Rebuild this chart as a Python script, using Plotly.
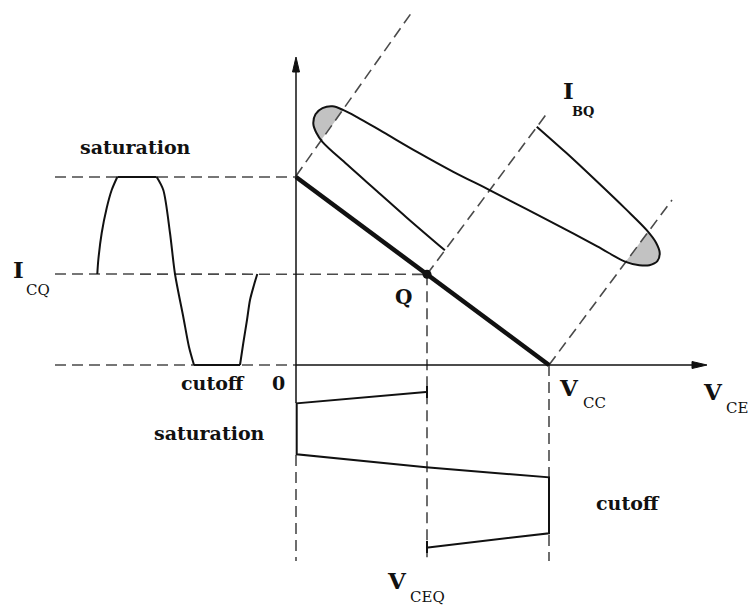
import numpy as np
import plotly.graph_objects as go

# ---------------- diagram values (screen units, y downward) ----------
ORIGIN = (296, 365)          # (V_CE = 0, I_C = 0)
VCC_X = 549                  # V_CC on the V_CE axis
IC_SAT_Y = 177               # I_C(sat) level on the I_C axis
ICQ_Y = 274                  # I_CQ level
VCEQ_X = 427                 # V_CEQ
Y_ARROW_TIP = 57
X_ARROW_TIP = 707
LEFT_DASH_X = 55
BOTTOM_DASH_Y = 561

# collector current waveform (left), split into pieces
ic_pieces = [
    ([97.3, 98.3, 101.7, 106.7, 111.7, 117.3], [274, 260, 233, 208, 190, 177]),
    ([117.3, 156.7], [177, 177]),
    ([156.7, 163.3, 170, 175, 183.3, 189, 194], [177, 190, 233, 274, 317, 347, 365]),
    ([194, 240], [365, 365]),
    ([240, 243.3, 247, 250, 254, 257.3], [365, 343, 320, 300, 285, 274]),
]

# collector-emitter voltage waveform (bottom)
vce_x = [426, 296.7, 296.7, 426, 549, 549, 426]
vce_y = [392, 403.3, 454.3, 467.3, 477.3, 533.3, 547.7]

# base current waveform, in a frame rotated along the load line:
# U = along the load line (towards V_CC), V = along the I_BQ dashed line
ib_u = [0, 40, 80, 120, 150, 165, 174, 177, 173, 165, 152, 120, 80, 40, 0,
        -40, -80, -120, -150, -165, -176, -183, -185, -181, -173, -163, -130, -90, -50, 0]
ib_v = [-184, -180.5, -176, -171, -166.5, -162, -156, -148, -140, -134, -128.5, -124, -118, -111.5, -105,
        -98, -92.5, -88, -84.5, -82, -78.5, -71, -62, -53, -47.5, -44, -40.5, -37, -33.5, -30]
cap_r_u = [152, 165, 174, 177, 173, 165, 152]
cap_r_v = [-166.7, -162, -156, -148, -140, -134, -128.5]
cap_l_u = [-165, -176, -183, -185, -181, -173, -165]
cap_l_v = [-82, -78.5, -71, -62, -53, -47.5, -44.3]

# dashed guide lines through the three operating points (upper ends)
guide_top_sat = (412, 12)
guide_top_q = (548, 112)
guide_top_vcc = (672, 200)

# labels: text, x, y, size, family, bold
labels = [
    ("saturation", 135, 147, 19, "DejaVu Serif", True),
    ("I", 18, 269, 23, "DejaVu Serif", True),
    ("CQ", 38, 290, 15, "DejaVu Serif", False),
    ("Q", 403, 297, 20, "DejaVu Serif", True),
    ("0", 278, 383, 19, "DejaVu Serif", True),
    ("cutoff", 213, 383, 19, "DejaVu Serif", True),
    ("saturation", 209, 433, 19, "DejaVu Serif", True),
    ("V", 569, 387, 23, "DejaVu Serif", True),
    ("CC", 594, 403, 15, "DejaVu Serif", False),
    ("V", 713, 391, 23, "DejaVu Serif", True),
    ("CE", 737, 408, 15, "DejaVu Serif", False),
    ("cutoff", 628, 503, 19, "DejaVu Serif", True),
    ("V", 397, 580, 23, "DejaVu Serif", True),
    ("CEQ", 427, 597, 15, "DejaVu Serif", False),
    ("I", 568, 90, 23, "DejaVu Serif", True),
    ("BQ", 583, 111, 13, "DejaVu Serif", True),
]

PAGE_W, PAGE_H = 751, 607

# ---------------- geometry helpers ----------------
ox, oy = ORIGIN
d = np.array([VCC_X - ox, oy - IC_SAT_Y], dtype=float)
u = d / np.linalg.norm(d)
v = np.array([-u[1], u[0]])
Q = np.array([VCEQ_X, IC_SAT_Y + (VCEQ_X - ox) * d[1] / d[0]])


def to_screen(U, V):
    U = np.asarray(U, float)
    V = np.asarray(V, float)
    return Q[0] + U * u[0] + V * v[0], Q[1] + U * u[1] + V * v[1]


INK = "#111111"
DASH = "#4a4a4a"
GRAY = "#c2c2c2"

fig = go.Figure()

# gray caps (clipped parts of the base current)
for cu, cv in [(cap_r_u, cap_r_v), (cap_l_u, cap_l_v)]:
    cx, cy = to_screen(cu, cv)
    fig.add_trace(go.Scatter(x=cx, y=cy, mode="lines", fill="toself", fillcolor=GRAY,
                             line=dict(width=0, shape="spline", smoothing=1.0),
                             hoverinfo="skip"))

# dashed guides
dx, dy = [], []
segs = [
    ((LEFT_DASH_X, IC_SAT_Y), (ox, IC_SAT_Y)),
    ((LEFT_DASH_X, ICQ_Y), (Q[0], Q[1])),
    ((LEFT_DASH_X, oy), (ox, oy)),
    ((ox, 455), (ox, BOTTOM_DASH_Y)),
    ((VCEQ_X, Q[1]), (VCEQ_X, BOTTOM_DASH_Y)),
    ((VCC_X, oy), (VCC_X, BOTTOM_DASH_Y)),
    ((ox, IC_SAT_Y - 1), guide_top_sat),
    ((Q[0], Q[1]), guide_top_q),
    ((VCC_X, oy), guide_top_vcc),
]
for (x0, y0), (x1, y1) in segs:
    dx += [x0, x1, None]
    dy += [y0, y1, None]
fig.add_trace(go.Scatter(x=dx, y=dy, mode="lines",
                         line=dict(color=DASH, width=1.6, dash="11px,6px"),
                         hoverinfo="skip"))

# axes
fig.add_trace(go.Scatter(x=[ox, ox, None, ox, X_ARROW_TIP - 10],
                         y=[403, Y_ARROW_TIP + 10, None, oy, oy],
                         mode="lines", line=dict(color=INK, width=1.5), hoverinfo="skip"))
# arrowheads
fig.add_trace(go.Scatter(x=[ox, ox - 3.5, ox + 3.5, ox],
                         y=[Y_ARROW_TIP, Y_ARROW_TIP + 15, Y_ARROW_TIP + 15, Y_ARROW_TIP],
                         mode="lines", fill="toself", fillcolor=INK,
                         line=dict(color=INK, width=1), hoverinfo="skip"))
fig.add_trace(go.Scatter(x=[X_ARROW_TIP, X_ARROW_TIP - 15, X_ARROW_TIP - 15, X_ARROW_TIP],
                         y=[oy, oy - 3.5, oy + 3.5, oy],
                         mode="lines", fill="toself", fillcolor=INK,
                         line=dict(color=INK, width=1), hoverinfo="skip"))

# load line
fig.add_trace(go.Scatter(x=[ox, VCC_X], y=[IC_SAT_Y, oy], mode="lines",
                         line=dict(color=INK, width=4.5), hoverinfo="skip"))

# collector current waveform
wx, wy = [], []
for px, py in ic_pieces:
    wx += px + [None]
    wy += py + [None]
fig.add_trace(go.Scatter(x=wx, y=wy, mode="lines",
                         line=dict(color=INK, width=2, shape="spline", smoothing=0.8),
                         hoverinfo="skip"))

# V_CE waveform
fig.add_trace(go.Scatter(x=vce_x, y=vce_y, mode="lines",
                         line=dict(color=INK, width=2), hoverinfo="skip"))
fig.add_trace(go.Scatter(x=[VCEQ_X, VCEQ_X, None, VCEQ_X, VCEQ_X],
                         y=[386, 398, None, 541, 553], mode="lines",
                         line=dict(color=INK, width=2), hoverinfo="skip"))

# base current waveform
bx, by = to_screen(ib_u, ib_v)
fig.add_trace(go.Scatter(x=bx, y=by, mode="lines",
                         line=dict(color=INK, width=2, shape="spline", smoothing=1.0),
                         hoverinfo="skip"))

# Q point
fig.add_trace(go.Scatter(x=[Q[0]], y=[Q[1]], mode="markers",
                         marker=dict(color=INK, size=9), hoverinfo="skip"))

for text, x, y, size, fam, bold in labels:
    fig.add_annotation(x=x, y=y, text=f"<b>{text}</b>" if bold else text,
                       showarrow=False, xanchor="center", yanchor="middle",
                       font=dict(family=fam, size=size, color=INK))

fig.update_layout(
    width=PAGE_W, height=PAGE_H,
    margin=dict(l=0, r=0, t=0, b=0),
    paper_bgcolor="white", plot_bgcolor="white", showlegend=False,
    hovermode=False,
    xaxis=dict(range=[0, PAGE_W], visible=False, fixedrange=True),
    yaxis=dict(range=[PAGE_H, 0], visible=False, fixedrange=True),
)

fig.write_html(
    "out.html",
    config={"displayModeBar": False, "staticPlot": True},
    post_script="document.body.style.margin='0';document.body.style.overflow='hidden';",
)
